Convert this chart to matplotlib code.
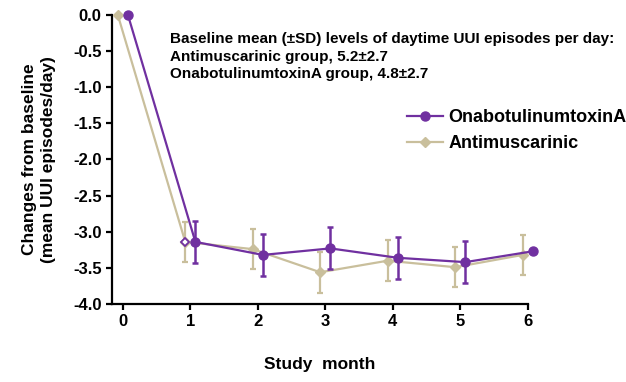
import matplotlib.pyplot as plt
import numpy as np

plt.rcParams['font.family'] = ['Liberation Sans', 'DejaVu Sans']
plt.rcParams['font.weight'] = 'bold'

months = [0, 1, 2, 3, 4, 5, 6]
onabot_mean = [0.0, -3.14, -3.32, -3.23, -3.36, -3.42, -3.27]
onabot_sd = [0.0, 0.29, 0.29, 0.29, 0.29, 0.29, 0.29]
antimus_mean = [0.0, -3.14, -3.24, -3.56, -3.40, -3.49, -3.32]
antimus_sd = [0.0, 0.28, 0.28, 0.28, 0.28, 0.28, 0.28]

purple = '#7030A0'
tan = '#C9BF9C'

fig = plt.figure(figsize=(6.26, 3.82), dpi=100)
ax = fig.add_axes([0.179, 0.204, 0.664, 0.757])

x = np.array(months)
off = 0.075

# antimuscarinic (drawn first, underneath)
ax.errorbar(x[1:] - off, antimus_mean[1:], yerr=antimus_sd[1:], fmt='none',
            ecolor=tan, elinewidth=1.6, capsize=2.5, capthick=1.6, zorder=2)
ax.plot(x - off, antimus_mean, color=tan, lw=1.6, marker='D', ms=5.5,
        mfc=tan, mec=tan, label='Antimuscarinic', zorder=3, clip_on=False)
# open diamond at month 1
ax.plot(x[1] - off, antimus_mean[1], marker='D', ms=4.5, mfc='white',
        mec=purple, mew=1.3, zorder=3)

# onabotulinumtoxinA
ax.errorbar(x[1:] + off, onabot_mean[1:], yerr=onabot_sd[1:], fmt='none',
            ecolor=purple, elinewidth=1.8, capsize=2.5, capthick=1.8, zorder=4)
ax.plot(x + off, onabot_mean, color=purple, lw=1.6, marker='o', ms=6.5,
        mfc=purple, mec=purple, label='OnabotulinumtoxinA', zorder=5,
        clip_on=False)

ax.set_xlim(-0.16, 6)
ax.set_ylim(-4.0, 0.0)
ax.set_yticks(np.arange(-4.0, 0.01, 0.5))
ax.set_yticklabels(['%.1f' % v for v in np.arange(-4.0, 0.01, 0.5)])
ax.set_xticks(months)

for s in ['top', 'right']:
    ax.spines[s].set_visible(False)
for s in ['left', 'bottom']:
    ax.spines[s].set_linewidth(1.6)
ax.tick_params(width=1.6, length=4.5, labelsize=12, pad=3)

ax.set_ylabel('Changes from baseline\n(mean UUI episodes/day)', fontsize=12.5,
              fontweight='bold', labelpad=12, linespacing=1.35)
ax.set_xlabel('Study  month', fontsize=12.5, fontweight='bold', labelpad=20)

ax.text(0.139, 0.94,
        'Baseline mean (\u00b1SD) levels of daytime UUI episodes per day:\n'
        'Antimuscarinic group, 5.2\u00b12.7\n'
        'OnabotulinumtoxinA group, 4.8\u00b12.7',
        transform=ax.transAxes, fontsize=11, fontweight='bold',
        va='top', ha='left', linespacing=1.32, clip_on=False)

h, l = ax.get_legend_handles_labels()
ax.legend(h[::-1], l[::-1], loc='upper left', bbox_to_anchor=(0.71, 0.675),
          frameon=False, fontsize=13, handlelength=2.0, handletextpad=0.3,
          borderaxespad=0, borderpad=0, labelspacing=0.5)

fig.savefig('out.png', dpi=100)
